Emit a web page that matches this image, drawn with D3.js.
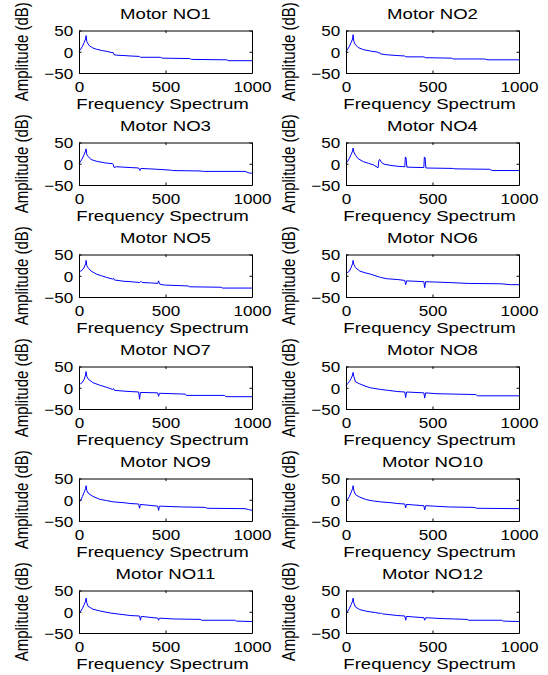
<!DOCTYPE html>
<html>
<head>
<meta charset="UTF-8">
<title>Motor spectra</title>
<script src="https://cdn.jsdelivr.net/npm/d3@7"></script>
<style>
  body { margin: 0; background: #fff; }
  text { font-family: "Liberation Sans", Arial, sans-serif; }
</style>
</head>
<body>
<script>
var titles = ["Motor NO1", "Motor NO2", "Motor NO3", "Motor NO4", "Motor NO5", "Motor NO6",
              "Motor NO7", "Motor NO8", "Motor NO9", "Motor NO10", "Motor NO11", "Motor NO12"];
var xTicks = [0, 500, 1000];
var yTicks = [-50, 0, 50];

// [frequency, amplitude dB]
var motor1 = [[0,1],[10,6],[20,13],[30,22],[38,30],[41,38],[45,24],[50,20],[60,14],[80,9],[100,6],[130,3],[160,1],[190,-2],[198,-2],[203,-7],[215,-8],[260,-9],[300,-10],[350,-11],[355,-13],[470,-13],[480,-15],[640,-16],[650,-18],[855,-19],[862,-21],[1000,-21]];
var motor2 = [[0,0],[10,6],[20,13],[30,22],[38,30],[41,40],[45,25],[52,18],[70,10],[100,5],[150,1],[185,-1],[190,-4],[195,-2],[200,-5],[230,-7],[300,-9],[340,-10],[346,-12],[450,-12],[460,-14],[610,-15],[620,-17],[800,-17],[820,-19],[1000,-19]];
var motor3 = [[0,0],[10,6],[20,13],[30,22],[38,30],[41,35],[45,22],[50,18],[70,10],[100,6],[150,2],[195,0],[198,-2],[203,-9],[215,-7],[300,-9],[345,-10],[352,-16],[358,-11],[450,-13],[530,-15],[540,-16],[700,-17],[720,-18],[960,-18],[985,-22],[1000,-22]];
var motor4 = [[0,1],[10,6],[20,13],[30,22],[38,30],[41,37],[45,28],[55,20],[70,12],[100,5],[130,1],[160,-3],[180,-8],[185,-10],[190,8],[196,10],[205,3],[220,-1],[260,-4],[300,-6],[340,-7],[343,16],[347,14],[352,-8],[450,-9],[453,16],[457,14],[462,-10],[620,-11],[630,-12],[830,-13],[845,-16],[1000,-16]];
var motor5 = [[0,8],[10,11],[20,14],[30,20],[38,28],[41,36],[45,24],[52,19],[70,11],[100,4],[130,0],[160,-4],[195,-8],[200,-6],[205,-10],[260,-13],[300,-14],[350,-16],[358,-13],[365,-16],[420,-17],[455,-18],[460,-12],[465,-19],[480,-21],[500,-22],[630,-24],[640,-26],[820,-27],[830,-29],[1000,-29]];
var motor6 = [[0,5],[10,8],[20,11],[30,20],[38,28],[41,36],[45,27],[55,19],[80,11],[110,7],[140,4],[200,-4],[236,-7],[300,-9],[340,-11],[345,-21],[350,-12],[450,-14],[455,-28],[460,-14],[600,-16],[700,-18],[900,-19],[950,-21],[1000,-21]];
var motor7 = [[0,7],[10,10],[20,13],[30,20],[38,30],[41,38],[45,27],[52,21],[80,12],[120,6],[160,1],[195,-4],[200,-2],[205,-6],[260,-8],[300,-9],[345,-10],[350,-27],[355,-11],[455,-12],[460,-20],[465,-13],[615,-15],[620,-18],[840,-18],[850,-21],[1000,-21]];
var motor8 = [[0,5],[10,10],[20,15],[30,22],[38,30],[41,36],[45,27],[55,14],[80,9],[110,4],[140,0],[200,-4],[240,-6],[300,-9],[340,-10],[345,-23],[350,-10],[450,-12],[455,-24],[460,-12],[520,-14],[750,-16],[760,-19],[1000,-19]];
var motor9 = [[0,-5],[10,-2],[20,8],[30,18],[38,26],[41,33],[45,22],[52,16],[80,8],[120,1],[160,-2],[200,-5],[260,-7],[300,-9],[345,-10],[350,-20],[355,-11],[455,-15],[460,-25],[465,-15],[600,-17],[730,-18],[740,-20],[960,-21],[980,-23],[1000,-25]];
var motor10 = [[0,-3],[10,1],[20,8],[30,18],[38,26],[41,33],[45,22],[55,12],[80,6],[120,0],[160,-3],[200,-5],[260,-7],[300,-9],[340,-10],[345,-19],[350,-11],[450,-14],[455,-24],[460,-14],[600,-17],[740,-18],[755,-20],[1000,-21]];
var motor11 = [[0,-3],[10,1],[20,8],[30,17],[38,25],[41,32],[45,21],[52,13],[80,6],[120,2],[180,-3],[220,-5],[300,-9],[350,-10],[355,-20],[360,-11],[455,-15],[460,-20],[465,-15],[550,-17],[700,-18],[710,-20],[900,-20],[910,-22],[1000,-23]];
var motor12 = [[0,-3],[10,1],[20,8],[30,17],[38,25],[41,32],[45,21],[55,11],[80,5],[120,1],[170,-2],[200,-4],[205,-3],[210,-5],[300,-9],[340,-10],[345,-20],[350,-11],[450,-14],[455,-20],[460,-14],[550,-16],[700,-18],[710,-20],[900,-20],[910,-22],[1000,-23]];

var spectra = [motor1, motor2, motor3, motor4, motor5, motor6,
               motor7, motor8, motor9, motor10, motor11, motor12];

var svg = d3.select("body").append("svg").attr("width", 548).attr("height", 675);

var colX = [79, 346];
var boxW = 173, boxH = 42.5;
// text in the picture is wider than it is tall
var tickStretch = 1.14, labelStretch = 1.24;
var fs = 15;

var x = d3.scaleLinear().domain([0, 1000]).range([0, boxW]);
var y = d3.scaleLinear().domain([-50, 50]).range([boxH, 0]);
var line = d3.line().x(function (d) { return x(d[0]); }).y(function (d) { return y(d[1]); });

spectra.forEach(function (data, i) {
  var col = i % 2, row = Math.floor(i / 2);
  var left = colX[col], top = 30.5 + row * 112;
  var g = svg.append("g").attr("transform", "translate(" + left + "," + top + ")");

  g.append("path")
    .datum(data)
    .attr("d", line)
    .attr("fill", "none")
    .attr("stroke", "#0000ff")
    .attr("stroke-width", 1);

  var axL = g.append("g").call(d3.axisLeft(y).tickValues(yTicks).tickFormat(d3.format("d"))
    .tickSizeInner(-2.5).tickSizeOuter(0).tickPadding(5));
  var axB = g.append("g").attr("transform", "translate(0," + boxH + ")")
    .call(d3.axisBottom(x).tickValues(xTicks).tickFormat(d3.format("d"))
      .tickSizeInner(-2.5).tickSizeOuter(0).tickPadding(8));
  g.append("g").call(d3.axisTop(x).tickValues(xTicks).tickSizeInner(-2.5).tickSizeOuter(0).tickFormat(""));
  g.append("g").attr("transform", "translate(" + boxW + ",0)")
    .call(d3.axisRight(y).tickValues(yTicks).tickSizeInner(-2.5).tickSizeOuter(0).tickFormat(""));

  g.selectAll(".domain").attr("stroke", "#000");
  g.selectAll(".tick line").attr("stroke", "#000");
  g.selectAll("g").attr("font-family", null).attr("font-size", null);
  [axL, axB].forEach(function (a) {
    a.selectAll("text")
      .attr("font-size", fs)
      .attr("fill", "#000")
      .attr("transform", "scale(" + tickStretch + ",1)");
  });
  axL.selectAll("text").attr("dy", "0.36em");
  axB.selectAll("text").attr("dy", "0.71em");

  g.append("text")
    .attr("transform", "translate(" + boxW / 2 + "," + (-12) + ") scale(" + labelStretch + ",1)")
    .attr("text-anchor", "middle")
    .attr("font-size", fs)
    .text(titles[i]);

  g.append("text")
    .attr("transform", "translate(" + (boxW / 2 - 3) + "," + (boxH + 36) + ") scale(" + labelStretch + ",1)")
    .attr("text-anchor", "middle")
    .attr("font-size", fs)
    .text("Frequency Spectrum");

  g.append("text")
    .attr("transform", "translate(-51," + boxH / 2 + ") scale(" + labelStretch + ",1) rotate(-90)")
    .attr("text-anchor", "middle")
    .attr("font-size", fs)
    .text("Amplitude (dB)");
});
</script>
</body>
</html>
